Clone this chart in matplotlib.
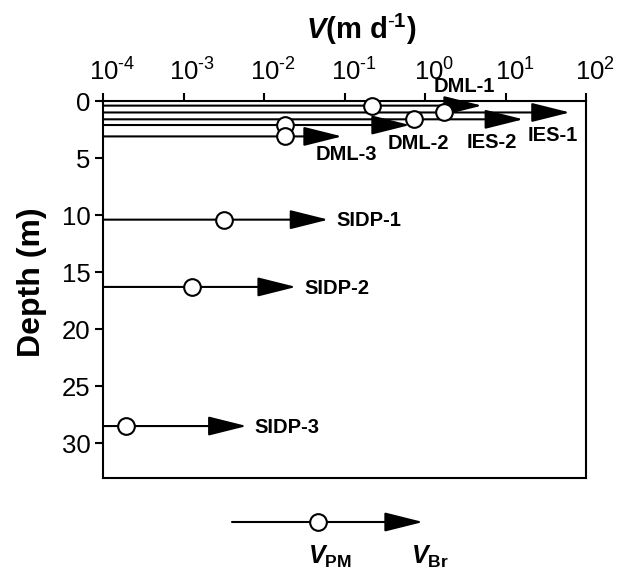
import numpy as np
import matplotlib
matplotlib.use('Agg')
import matplotlib.pyplot as plt
from matplotlib.ticker import NullLocator
from matplotlib.transforms import ScaledTranslation

plt.rcParams['font.family'] = 'Liberation Sans'
plt.rcParams['mathtext.fontset'] = 'custom'
plt.rcParams['mathtext.rm'] = 'Liberation Sans'
plt.rcParams['mathtext.it'] = 'Liberation Sans:italic'
plt.rcParams['mathtext.bf'] = 'Liberation Sans:bold'
plt.rcParams['mathtext.bfit'] = 'Liberation Sans:bold:italic'

# sites, depth (m), V_PM (circle) and V_Br (arrow tip) in m/d
sites = ['DML-1', 'IES-1', 'IES-2', 'DML-2', 'DML-3', 'SIDP-1', 'SIDP-2', 'SIDP-3']
depth = [0.4, 1.0, 1.6, 2.1, 3.1, 10.4, 16.3, 28.5]
v_pm = [0.22, 1.7, 0.72, 0.018, 0.018, 0.0032, 0.00126, 0.000195]
v_br = [5.1, 63, 16.6, 0.65, 0.093, 0.063, 0.025, 0.0061]

x_ticks = [1e-4, 1e-3, 1e-2, 1e-1, 1e0, 1e1, 1e2]
x_ticklabels = [r'$10^{\text{-}4}$', r'$10^{\text{-}3}$', r'$10^{\text{-}2}$', r'$10^{\text{-}1}$',
                r'$10^{0}$', r'$10^{1}$', r'$10^{2}$']
y_ticks = [0, 5, 10, 15, 20, 25, 30]

# label placement relative to arrow tip (pixels), and alignment
lab_off = [(-18, 19), (-17, -23), (-31, -23), (8, -18), (4, -18), (8, -1), (8, -2), (8, -1)]
lab_ha = ['center'] * 5 + ['left'] * 3

fig = plt.figure(figsize=(6.29, 5.71), dpi=100)
ax = fig.add_axes([0.1638, 0.162, 0.7679, 0.661])
ax.set_xscale('log')
ax.set_xlim(1e-4, 1e2)
ax.set_ylim(33.1, 0)

arrow = dict(arrowstyle='-|>,head_length=2.4,head_width=0.6', mutation_scale=10,
             lw=1.5, color='k', shrinkA=0, shrinkB=0)
for d, br in zip(depth, v_br):
    ax.annotate('', xy=(br, d), xytext=(1e-4, d), arrowprops=arrow)
ax.plot(v_pm, depth, 'o', ms=12, mfc='white', mec='k', mew=1.5, zorder=5, clip_on=False)

for s, d, br, off, ha in zip(sites, depth, v_br, lab_off, lab_ha):
    ax.annotate(s, xy=(br, d), xytext=off, textcoords='offset pixels',
                ha=ha, va='center', fontsize=14.5, fontweight='bold', zorder=6)

ax.xaxis.tick_top()
ax.set_xticks(x_ticks)
ax.set_xticklabels(x_ticklabels)
ax.xaxis.set_minor_locator(NullLocator())
ax.set_yticks(y_ticks)
ax.tick_params(axis='x', direction='out', length=6, width=1.5, labelsize=18.5, pad=5,
               top=True, bottom=False, labeltop=True, labelbottom=False)
ax.tick_params(axis='y', direction='out', length=6, width=1.5, labelsize=18.5, pad=3)
for lab in ax.get_xticklabels():
    lab.set_transform(lab.get_transform() + ScaledTranslation(0.09, 0, fig.dpi_scale_trans))
for sp in ax.spines.values():
    sp.set_linewidth(1.5)

ax.text(0.534, 1.19, r'$\mathbfit{V}\mathbf{(m\ d^{\text{-}1})}$', transform=ax.transAxes,
        ha='center', va='center', fontsize=21)
ax.set_ylabel('Depth (m)', fontsize=23, fontweight='bold')
ax.yaxis.set_label_coords(-0.116, 0.52)

# key below the plot
fig_px = 'figure pixels'
ax.annotate('', xy=(423, 49), xycoords=fig_px, xytext=(232, 49), textcoords=fig_px,
            arrowprops=arrow, annotation_clip=False)
fig.add_artist(plt.Line2D([318 / 629], [49 / 571], marker='o', ms=12, mfc='white',
                          mec='k', mew=1.5, transform=fig.transFigure))
fig.text(330 / 629, 14 / 571, r'$\mathbfit{V}_{\mathbf{PM}}$', ha='center', va='center', fontsize=18)
fig.text(430 / 629, 14 / 571, r'$\mathbfit{V}_{\mathbf{Br}}$', ha='center', va='center', fontsize=18)

fig.savefig('out.png', dpi=100)
